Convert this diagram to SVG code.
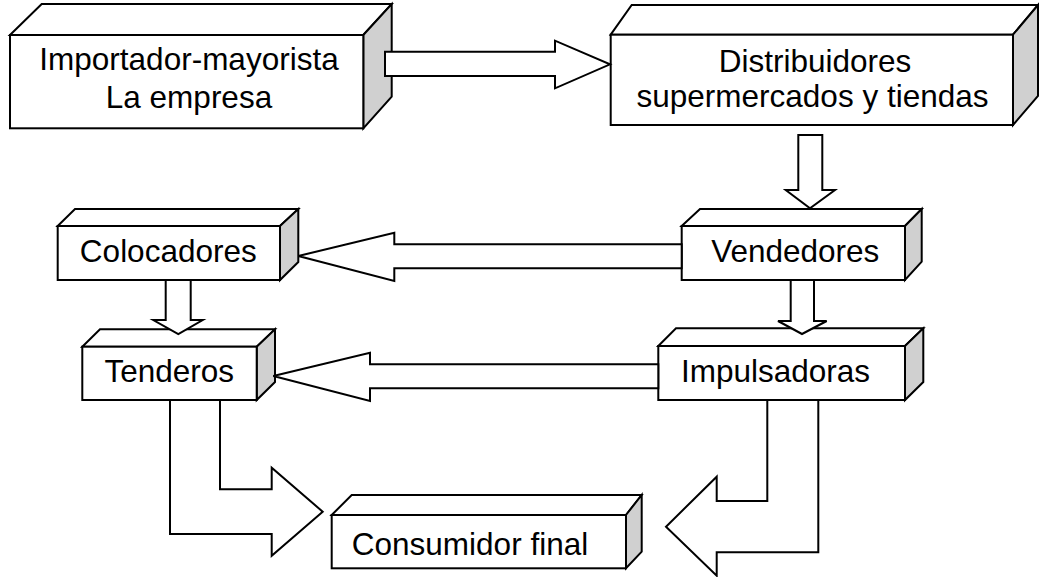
<svg xmlns="http://www.w3.org/2000/svg" width="1039" height="577" viewBox="0 0 1039 577">
  <style>
    .face { fill: #ffffff; stroke: #000000; stroke-width: 2; stroke-linejoin: miter; }
    .side { fill: #d0d0d0; stroke: #000000; stroke-width: 2; stroke-linejoin: miter; }
    .label { font-family: "Liberation Sans", Arial, sans-serif; font-size: 31.5px; fill: #000000; text-anchor: middle; }
    .arrow { fill: #ffffff; stroke: #000000; stroke-width: 2; stroke-linejoin: miter; }
  </style>
  <rect x="0" y="0" width="1039" height="577" fill="#ffffff"/>

  <!-- 3D boxes -->
  <g id="importador">
    <polygon class="face" points="10,35 41.7,4 391.7,4 363.3,35"/>
    <polygon class="side" points="363.3,35 391.7,4 391.7,96.7 363.3,128.3"/>
    <rect class="face" x="10" y="35" width="353.3" height="93.3"/>
    <text class="label" x="189" y="70">Importador-mayorista</text>
    <text class="label" x="189" y="108.3">La empresa</text>
  </g>

  <g id="distribuidores">
    <polygon class="face" points="610.7,34.7 631.7,5 1038,5 1013,34.7"/>
    <polygon class="side" points="1013,34.7 1038,5 1038,96 1013,125"/>
    <rect class="face" x="610.7" y="34.7" width="402.3" height="90.3"/>
    <text class="label" x="815" y="71.7">Distribuidores</text>
    <text class="label" x="812.5" y="106.7">supermercados y tiendas</text>
  </g>

  <g id="vendedores">
    <polygon class="face" points="681.7,226 700,209 921.7,209 905,226"/>
    <polygon class="side" points="905,226 921.7,209 921.7,261.7 905,280"/>
    <rect class="face" x="681.7" y="226" width="223.3" height="54"/>
    <text class="label" x="795.3" y="261.7">Vendedores</text>
  </g>

  <g id="impulsadoras">
    <polygon class="face" points="658.3,346 676,328.3 923.3,328.3 905,346"/>
    <polygon class="side" points="905,346 923.3,328.3 923.3,382 905,400"/>
    <rect class="face" x="658.3" y="346" width="246.7" height="54"/>
    <text class="label" x="775.5" y="381.7">Impulsadoras</text>
  </g>

  <g id="colocadores">
    <polygon class="face" points="57.7,226 75,209 298.3,209 280,226"/>
    <polygon class="side" points="280,226 298.3,209 298.3,262 280,280"/>
    <rect class="face" x="57.7" y="226" width="222.3" height="54"/>
    <text class="label" x="168.3" y="261.7">Colocadores</text>
  </g>

  <g id="tenderos">
    <polygon class="face" points="82.3,346.7 100,329.3 275,329.3 256.7,346.7"/>
    <polygon class="side" points="256.7,346.7 275,329.3 275,382 256.7,400"/>
    <rect class="face" x="82.3" y="346.7" width="174.4" height="53.3"/>
    <text class="label" x="169.2" y="381.7">Tenderos</text>
  </g>

  <g id="consumidor">
    <polygon class="face" points="331.7,515 351.7,495 641.7,495 626,515"/>
    <polygon class="side" points="626,515 641.7,495 641.7,551.7 626,568.3"/>
    <rect class="face" x="331.7" y="515" width="294.3" height="53.3"/>
    <text class="label" x="470" y="555">Consumidor final</text>
  </g>

  <!-- block arrows -->
  <g id="connectors">
    <path class="arrow" d="M385,51.7 H555 V40.7 L610,64.3 L555,88.3 V76 H385 Z"/>
    <path class="arrow" d="M798.3,135 V190 H785.7 L810,208.3 L835,190 H822.3 V135 Z"/>
    <path class="arrow" d="M790.7,280 V321 H778 L802,334 L826.7,321 H814 V280 Z"/>
    <path class="arrow" d="M165.7,280 V320 H153.3 L178.3,334 L202.7,320 H190.7 V280 Z"/>
    <path class="arrow" d="M681.7,244.3 H394.3 V232.7 L298.3,256 L394.3,281 V268.3 H681.7 Z"/>
    <path class="arrow" d="M658.3,364.3 H370 V352.7 L273.3,376 L370,401 V388.3 H658.3 Z"/>
    <path class="arrow" d="M170,400 V534 H271.7 V555.7 L322.7,511.7 L271.7,467.7 V489.3 H220 V400 Z"/>
    <path class="arrow" d="M767.3,400 V501 H716.7 V476.7 L666,526.7 L716.7,575.7 V552.3 H818.3 V400 Z"/>
  </g>
</svg>
